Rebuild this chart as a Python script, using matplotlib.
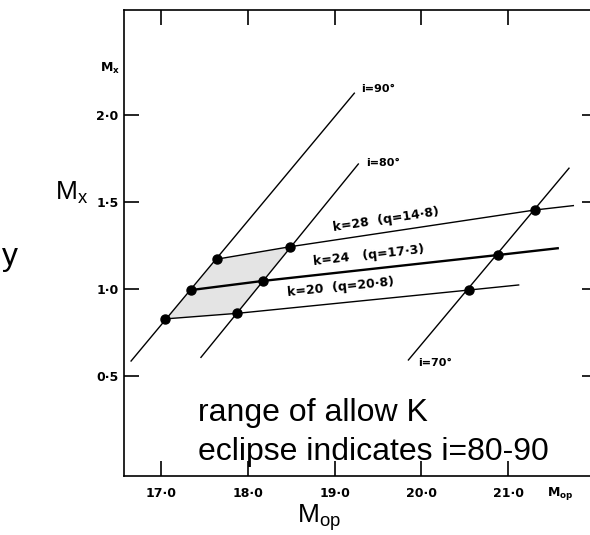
import matplotlib
matplotlib.use("Agg")
import matplotlib.pyplot as plt
import numpy as np

# Mass-ratio lines: k (and q) values, intersections with the i = 90, 80, 70 deg lines
k_values = [28, 24, 20]
q_labels = ["14·8", "17·3", "20·8"]
i_values = [90, 80, 70]

mop_k28 = [17.64, 18.49, 21.31]
mx_k28 = [1.171, 1.243, 1.454]
mop_k24 = [17.35, 18.17, 20.88]
mx_k24 = [0.994, 1.046, 1.195]
mop_k20 = [17.05, 17.88, 20.55]
mx_k20 = [0.828, 0.860, 0.994]

# right-hand ends of the k lines
k_end_mop = [21.75, 21.57, 21.12]
k_end_mx = [1.479, 1.234, 1.023]

# inclination line extents (lower end, upper end)
i_low_mop = [16.655, 17.46, 19.85]
i_low_mx = [0.586, 0.607, 0.592]
i_high_mop = [19.227, 19.273, 21.70]
i_high_mx = [2.125, 1.718, 1.694]

x_ticks = [17.0, 18.0, 19.0, 20.0, 21.0]
x_tick_labels = ["17·0", "18·0", "19·0", "20·0", "21·0"]
y_ticks = [0.5, 1.0, 1.5, 2.0]
y_tick_labels = ["0·5", "1·0", "1·5", "2·0"]

W, H = 590, 535
fig = plt.figure(figsize=(W / 100, H / 100), dpi=100)

def fx(px):
    return px / W

def fy(py):
    return 1 - py / H

ax_left, ax_right, ax_top, ax_bottom = 124.3, 592.0, 10.0, 475.7
ax = fig.add_axes([fx(ax_left), fy(ax_bottom), (ax_right - ax_left) / W, (ax_bottom - ax_top) / H])
ax.set_xlim(16.577, 21.965)
ax.set_ylim(-0.073, 2.603)

lw_spine = 1.2
for side in ["left", "bottom", "top"]:
    ax.spines[side].set_linewidth(lw_spine)
ax.spines["right"].set_visible(False)

ax.set_xticks(x_ticks)
ax.set_xticklabels(x_tick_labels)
ax.set_yticks(y_ticks)
ax.set_yticklabels(y_tick_labels)
ax.tick_params(axis="both", direction="in", length=11, width=1.2,
               top=True, right=True, labelsize=9)
ax.tick_params(axis="x", pad=8)
ax.tick_params(axis="y", pad=4)
for t in ax.yaxis.get_major_ticks():
    t.tick2line.set_markersize(7)
for lab in ax.get_xticklabels() + ax.get_yticklabels():
    lab.set_fontweight("bold")

rows_mop = [mop_k28, mop_k24, mop_k20]
rows_mx = [mx_k28, mx_k24, mx_k20]

# stippled region between the i=90 and i=80 lines, k=20..28
poly_x = [mop_k20[0], mop_k24[0], mop_k28[0], mop_k28[1], mop_k24[1], mop_k20[1]]
poly_y = [mx_k20[0], mx_k24[0], mx_k28[0], mx_k28[1], mx_k24[1], mx_k20[1]]
plt.rcParams["hatch.color"] = "#8a8a8a"
plt.rcParams["hatch.linewidth"] = 0.6
ax.fill(poly_x, poly_y, facecolor="#e4e4e4", edgecolor="none", hatch="....", zorder=1)

# inclination lines
for j in range(3):
    ax.plot([i_low_mop[j], i_high_mop[j]], [i_low_mx[j], i_high_mx[j]],
            color="black", lw=1.0, zorder=2)

# k lines
k_lw = [1.0, 1.7, 1.0]
for r in range(3):
    xs = list(rows_mop[r]) + [k_end_mop[r]]
    ys = list(rows_mx[r]) + [k_end_mx[r]]
    ax.plot(xs, ys, color="black", lw=k_lw[r], zorder=2)
    ax.plot(rows_mop[r], rows_mx[r], "o", color="black", ms=6.5, zorder=3)

# labels on the inclination lines
i_lab_pos = [(19.31, 2.15), (19.36, 1.724), (19.96, 0.575)]
for j in range(3):
    ax.text(i_lab_pos[j][0], i_lab_pos[j][1], f"i={i_values[j]}°",
            fontsize=8, fontweight="bold", ha="left", va="center")

# labels along the k lines, rotated to follow them
fig.canvas.draw()
k_lab_pos = [(18.98, 1.35), (18.75, 1.155), (18.46, 0.977)]
k_gap = ["  ", "   ", "  "]
for r in range(3):
    p1 = ax.transData.transform((rows_mop[r][1], rows_mx[r][1]))
    p2 = ax.transData.transform((rows_mop[r][2], rows_mx[r][2]))
    ang = np.degrees(np.arctan2(p2[1] - p1[1], p2[0] - p1[0]))
    ax.text(k_lab_pos[r][0], k_lab_pos[r][1],
            f"k={k_values[r]}{k_gap[r]}(q={q_labels[r]})",
            fontsize=9, fontweight="bold", ha="left", va="center",
            rotation=ang, rotation_mode="anchor")

# small axis names printed on the frame
fig.text(fx(100), fy(72), r"M$_{\mathbf{x}}$", fontsize=9, fontweight="bold",
         ha="left", va="baseline")
fig.text(fx(547), fy(496), r"M$_{\mathbf{op}}$", fontsize=9, fontweight="bold",
         ha="left", va="baseline")

# large annotation text
plt.rcParams["mathtext.fontset"] = "custom"
plt.rcParams["mathtext.rm"] = "Liberation Sans"
plt.rcParams["mathtext.it"] = "Liberation Sans"
big = dict(family="Liberation Sans", color="black")
fig.text(fx(198), fy(421), "range of allow K", fontsize=23, va="baseline", **big)
fig.text(fx(198), fy(460), "eclipse indicates i=80-90", fontsize=23, va="baseline", **big)
fig.text(fx(297), fy(523), r"M$_{\mathrm{op}}$", fontsize=19, va="baseline", **big)
fig.text(fx(55), fy(200), r"M$_{\mathrm{x}}$", fontsize=19, va="baseline", **big)
fig.text(fx(2), fy(265), "y", fontsize=23, va="baseline", **big)

fig.savefig("out.png", dpi=100)
